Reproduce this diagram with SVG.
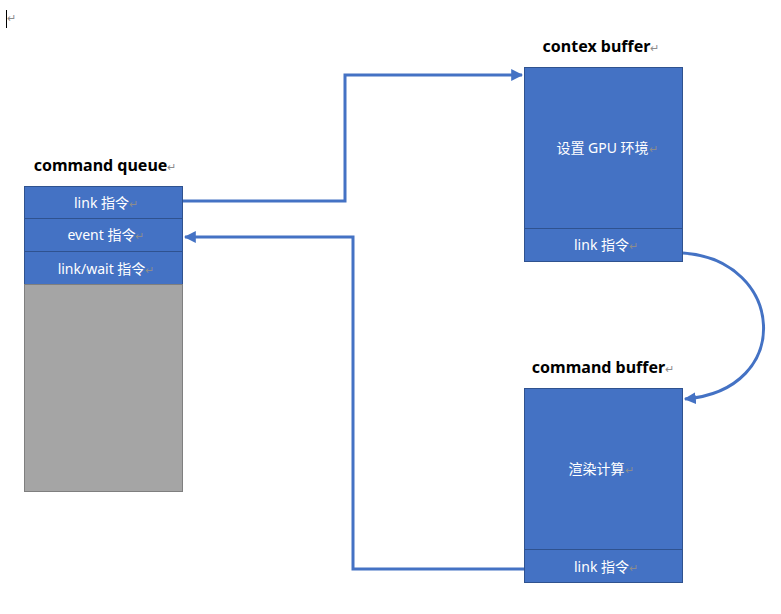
<svg xmlns="http://www.w3.org/2000/svg" width="781" height="614" viewBox="0 0 781 614">
<style>
.box{fill:#4472C4;stroke:#2F528F;stroke-width:1}
.gray{fill:#A5A5A5;stroke:#7F7F7F;stroke-width:1}
.t{font-family:"Noto Sans","Noto Sans CJK SC",sans-serif;font-size:14px;fill:#FFFFFF;text-anchor:middle}
.h{font-family:"Noto Sans","Noto Sans CJK SC",sans-serif;font-size:16px;font-weight:bold;fill:#000000;text-anchor:middle}
.m{fill:#8C8C8C;font-size:11px;font-weight:normal}
.c{fill:none;stroke:#4472C4;stroke-width:3}
</style>
<defs>
<marker id="ah" viewBox="0 0 10 10" refX="9" refY="5" markerWidth="4" markerHeight="4" orient="auto" markerUnits="strokeWidth">
<path d="M0,0 L10,5 L0,10 Z" fill="#4472C4"/>
</marker>
</defs>
<rect width="781" height="614" fill="#FFFFFF"/>
<g id="cursor">
<line x1="6.5" y1="10" x2="6.5" y2="28" stroke="#000000" stroke-width="1"/>
<text x="7" y="22" font-family="Noto Sans, sans-serif" font-size="11" fill="#8C8C8C">↵</text>
</g>
<g id="command-queue">
<text class="h" x="105" y="171">command queue<tspan class="m">↵</tspan></text>
<rect class="box" x="24.5" y="186.5" width="158" height="32"/>
<text class="t" x="106" y="208">link 指令<tspan class="m">↵</tspan></text>
<rect class="box" x="24.5" y="218.5" width="158" height="33"/>
<text class="t" x="106" y="240">event 指令<tspan class="m">↵</tspan></text>
<rect class="box" x="24.5" y="251.5" width="158" height="33"/>
<text class="t" x="106" y="274">link/wait 指令<tspan class="m">↵</tspan></text>
<rect class="gray" x="24.5" y="284.5" width="158" height="207"/>
</g>
<g id="contex-buffer">
<text class="h" x="601" y="52">contex buffer<tspan class="m">↵</tspan></text>
<rect class="box" x="524.5" y="67.5" width="158" height="161"/>
<text class="t" x="607" y="153">设置 GPU 环境<tspan class="m">↵</tspan></text>
<rect class="box" x="524.5" y="228.5" width="158" height="33"/>
<text class="t" x="606" y="250">link 指令<tspan class="m">↵</tspan></text>
</g>
<g id="command-buffer">
<text class="h" x="603" y="373">command buffer<tspan class="m">↵</tspan></text>
<rect class="box" x="524.5" y="388.5" width="158" height="161"/>
<text class="t" x="601" y="474">渲染计算<tspan class="m">↵</tspan></text>
<rect class="box" x="524.5" y="549.5" width="158" height="33"/>
<text class="t" x="606" y="572">link 指令<tspan class="m">↵</tspan></text>
</g>
<g id="connectors">
<path class="c" d="M183,201 H345 V75 H522" marker-end="url(#ah)"/>
<path class="c" d="M524,569 H353 V237 H185" marker-end="url(#ah)"/>
<path class="c" d="M683,253 C785,260 795,390 685,399" marker-end="url(#ah)"/>
</g>
</svg>
